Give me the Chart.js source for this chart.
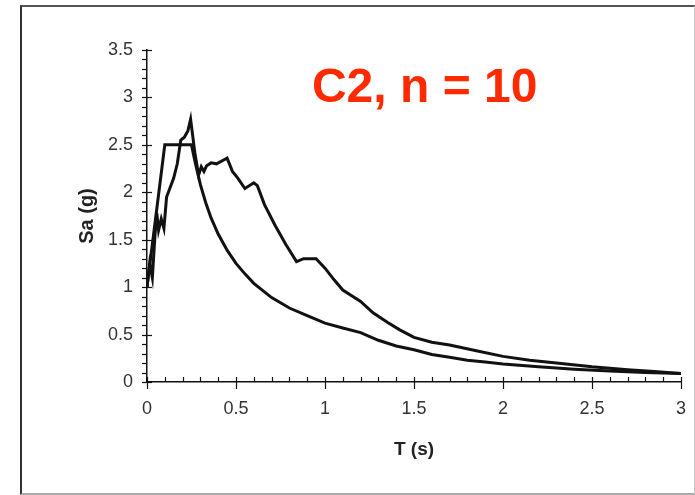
<!DOCTYPE html>
<html>
<head>
<meta charset="utf-8">
<script src="https://cdn.jsdelivr.net/npm/chart.js@4.4.1/dist/chart.umd.min.js"></script>
<style>
  html, body { margin: 0; padding: 0; background: #fff; }
  #wrap { position: relative; width: 695px; height: 495px; overflow: hidden; }
  #frame { position: absolute; left: 20px; top: 5px; width: 672px; height: 486px;
           border-left: 2px solid #333; border-top: 2px solid #555;
           border-bottom: 2px solid #aaa; border-right: 1px solid #ccc; pointer-events: none; }
  canvas { position: absolute; left: 0; top: 0; }
</style>
</head>
<body>
<div id="wrap">
  <canvas id="c" width="695" height="495"></canvas>
  <div id="frame"></div>
</div>
<script>
// ---- Data ----
const designT  = [0, 0.1, 0.25, 0.27, 0.3, 0.33, 0.36, 0.4, 0.45, 0.5, 0.55, 0.6, 0.7, 0.8, 0.9, 1.0, 1.1, 1.2,
                  1.3, 1.4, 1.5, 1.6, 1.7, 1.8, 1.9, 2.0, 2.2, 2.4, 2.6, 2.8, 3.0];
const designSa = [1.0, 2.5, 2.5, 2.32, 2.08, 1.89, 1.73, 1.56, 1.39, 1.25, 1.14, 1.04, 0.89, 0.78, 0.70, 0.62, 0.57, 0.52,
                  0.44, 0.38, 0.34, 0.29, 0.26, 0.23, 0.21, 0.19, 0.16, 0.135, 0.115, 0.10, 0.09];

const recordT  = [0, 0.015, 0.03, 0.045, 0.055, 0.065, 0.08, 0.095, 0.11, 0.13, 0.15, 0.17, 0.19, 0.21, 0.23, 0.245,
                  0.27, 0.29, 0.305, 0.32, 0.335, 0.36, 0.39, 0.42, 0.45, 0.48, 0.51, 0.55, 0.6, 0.62, 0.66,
                  0.72, 0.78, 0.84, 0.88, 0.95, 1.0, 1.05, 1.1, 1.2, 1.27, 1.35, 1.42, 1.5, 1.6, 1.7, 1.85, 2.0,
                  2.15, 2.3, 2.5, 2.7, 2.85, 3.0];
const recordSa = [1.0, 1.25, 1.1, 1.55, 1.78, 1.6, 1.72, 1.62, 1.95, 2.05, 2.15, 2.3, 2.55, 2.58, 2.65, 2.77,
                  2.4, 2.18, 2.27, 2.22, 2.28, 2.31, 2.3, 2.33, 2.36, 2.22, 2.15, 2.04, 2.1, 2.07, 1.87,
                  1.65, 1.45, 1.27, 1.30, 1.30, 1.20, 1.08, 0.97, 0.85, 0.73, 0.63, 0.55, 0.47, 0.42, 0.39, 0.33, 0.27,
                  0.23, 0.20, 0.16, 0.13, 0.11, 0.09];

const xTickLabels = ['0', '0.5', '1', '1.5', '2', '2.5', '3'];
const yTickLabels = ['0', '0.5', '1', '1.5', '2', '2.5', '3', '3.5'];
const xTitle = 'T (s)';
const yTitle = 'Sa (g)';
const annotationText = 'C2, n = 10';

const toPts = (xs, ys) => xs.map((x, i) => ({ x: x, y: ys[i] }));

const FONT = "'Liberation Sans', Arial, sans-serif";

const tickPlugin = {
  id: 'tickMarks',
  beforeDatasetsDraw(chart) {
    const ctx = chart.ctx;
    const xs = chart.scales.x, ys = chart.scales.y;
    const x0 = xs.getPixelForValue(0), y0 = ys.getPixelForValue(0);
    ctx.save();
    ctx.strokeStyle = '#111';
    ctx.lineWidth = 1.2;
    for (let i = 0; i <= 35; i++) {
      const py = Math.round(ys.getPixelForValue(i / 10)) + 0.5;
      const major = i % 5 === 0;
      ctx.beginPath();
      ctx.moveTo(x0 - 5, py);
      ctx.lineTo(major ? x0 + 5 : x0, py);
      ctx.stroke();
    }
    for (let i = 0; i <= 30; i++) {
      const px = Math.round(xs.getPixelForValue(i / 10)) + 0.5;
      const major = i % 5 === 0;
      ctx.beginPath();
      ctx.moveTo(px, y0 - 5);
      ctx.lineTo(px, major ? y0 + 7 : y0);
      ctx.stroke();
    }
    ctx.restore();
  },
  afterDraw(chart) {
    const ctx = chart.ctx;
    const xs = chart.scales.x, ys = chart.scales.y;
    ctx.save();
    ctx.fillStyle = '#ff2a00';
    ctx.font = 'bold 48px ' + FONT;
    ctx.textAlign = 'center';
    ctx.textBaseline = 'alphabetic';
    ctx.fillText(annotationText, xs.getPixelForValue(1.56), ys.getPixelForValue(2.957));
    ctx.restore();
  }
};

new Chart(document.getElementById('c'), {
  type: 'line',
  data: {
    datasets: [
      { label: 'Design', data: toPts(designT, designSa), borderColor: '#111', borderWidth: 3,
        pointRadius: 0, tension: 0, fill: false },
      { label: 'Record', data: toPts(recordT, recordSa), borderColor: '#111', borderWidth: 3,
        pointRadius: 0, tension: 0, fill: false }
    ]
  },
  options: {
    responsive: false,
    animation: false,
    devicePixelRatio: 1,
    layout: { padding: { top: 50, right: 14, left: 0, bottom: 0 } },
    plugins: { legend: { display: false }, tooltip: { enabled: false }, title: { display: false } },
    scales: {
      x: {
        type: 'linear', min: 0, max: 3,
        afterFit: (s) => { s.height = 113; s.paddingRight = 0; s.paddingLeft = 0; },
        grid: { drawOnChartArea: false, drawTicks: false },
        border: { display: true, color: '#111', width: 1.5 },
        ticks: {
          stepSize: 0.5, padding: 16, color: '#333', maxRotation: 0,
          font: { family: FONT, size: 18 },
          callback: (v) => { const i = Math.round(v * 2); return xTickLabels[i]; }
        },
        title: { display: true, text: xTitle, color: '#222',
                 font: { family: FONT, size: 19, weight: 'bold' }, padding: { top: 0, bottom: 34 } }
      },
      y: {
        type: 'linear', min: 0, max: 3.5,
        afterFit: (s) => { s.width = 147; },
        grid: { drawOnChartArea: false, drawTicks: false },
        border: { display: true, color: '#111', width: 1.5 },
        ticks: {
          stepSize: 0.5, padding: 14, color: '#333',
          font: { family: FONT, size: 18 },
          callback: (v) => { const i = Math.round(v * 2); return yTickLabels[i]; }
        },
        title: { display: true, text: yTitle, color: '#222',
                 font: { family: FONT, size: 20, weight: 'bold' }, padding: { top: 75, bottom: 0 } }
      }
    }
  },
  plugins: [tickPlugin]
});
</script>
</body>
</html>
